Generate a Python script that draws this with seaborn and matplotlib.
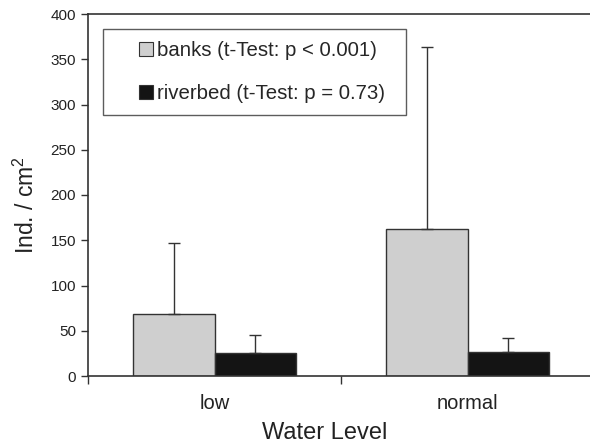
import matplotlib
matplotlib.use("Agg")
import matplotlib.pyplot as plt
import seaborn as sns
import pandas as pd
import numpy as np
from matplotlib.legend_handler import HandlerPatch
from matplotlib.patches import Rectangle

categories = ["low", "normal"]
series = ["banks (t-Test: p < 0.001)", "riverbed (t-Test: p = 0.73)"]
banks_mean = [68, 162]
banks_sd = [79, 201]
riverbed_mean = [25, 27]
riverbed_sd = [20, 15]
y_ticks = [0, 50, 100, 150, 200, 250, 300, 350, 400]

colors = ["#cfcfcf", "#141414"]

sns.set_theme(style="white")
plt.rcParams["font.family"] = ["Liberation Sans", "DejaVu Sans"]
plt.rcParams["mathtext.default"] = "regular"

df = pd.DataFrame({
    "Water Level": categories * 2,
    "series": [series[0]] * 2 + [series[1]] * 2,
    "value": banks_mean + riverbed_mean,
})

fig = plt.figure(figsize=(5.9, 4.47), dpi=100)
ax = fig.add_axes([88 / 590, 1 - 376 / 447, 506 / 590, 362 / 447])

sns.barplot(data=df, x="Water Level", y="value", hue="series",
            order=categories, hue_order=series, palette=colors,
            width=0.644, gap=0, edgecolor="#333333", linewidth=1.0,
            errorbar=None, ax=ax, saturation=1)

sds = [banks_sd, riverbed_sd]
for cont, sd in zip(ax.containers, sds):
    xs = [b.get_x() + b.get_width() / 2 for b in cont]
    hs = [b.get_height() for b in cont]
    ax.errorbar(xs, hs, yerr=[np.zeros(len(sd)), sd], fmt="none",
                ecolor="#333333", elinewidth=1.0, capsize=4, capthick=1.0,
                zorder=1)

ax.set_xlim(-0.5, 1.5)
ax.set_ylim(0, 400)
ax.set_yticks(y_ticks)
ax.set_xticks([-0.5, 0.5, 1.5], minor=False)
ax.set_xticklabels(["", "", ""])
ax.set_xticks([0, 1], minor=True)
ax.set_xticklabels(categories, minor=True)
ax.tick_params(axis="x", which="major", direction="out", length=6,
               width=1, color="#333333", bottom=True)
ax.tick_params(axis="x", which="minor", length=0, labelsize=14.5, pad=13,
               labelcolor="#222222")
ax.tick_params(axis="y", direction="out", length=5, width=1,
               color="#333333", left=True, labelsize=11, labelcolor="#222222")

for s in ["left", "bottom", "top"]:
    ax.spines[s].set_visible(True)
    ax.spines[s].set_color("#333333")
    ax.spines[s].set_linewidth(1.2)
ax.spines["right"].set_visible(False)

ax.set_xlabel("Water Level", fontsize=17, color="#222222")
ax.set_ylabel("Ind. / cm$^2$", fontsize=16.5, color="#222222")
ax.xaxis.set_label_coords((325 - 88) / 506, (376 - 422) / 362)
ax.yaxis.set_label_coords((39 - 88) / 506, (376 - 205) / 362)


def square_at_right(legend, orig_handle, xdescent, ydescent, width, height, fontsize):
    side = 14 * 72 / 100
    return Rectangle((width - xdescent - side, -ydescent + (height - side) / 2),
                     side, side)


handles, labels = ax.get_legend_handles_labels()
x0 = (103 - 88) / 506
w = (406 - 103) / 506
ytop = 1 - (29 - 14) / 362
leg = ax.legend(handles, labels, loc="upper left",
                bbox_to_anchor=(x0, ytop - 0.4, w, 0.4), mode="expand",
                frameon=True, fancybox=False, shadow=False,
                fontsize=14.7, handlelength=1.85, handleheight=0.7,
                handletextpad=0.2, labelspacing=1.15, borderpad=0.6,
                borderaxespad=0,
                handler_map={Rectangle: HandlerPatch(patch_func=square_at_right)})
leg.get_frame().set_edgecolor("#333333")
leg.get_frame().set_linewidth(1.0)
for h in leg.legend_handles:
    h.set_edgecolor("#333333")
    h.set_linewidth(0.8)

fig.savefig("out.png", dpi=100)
